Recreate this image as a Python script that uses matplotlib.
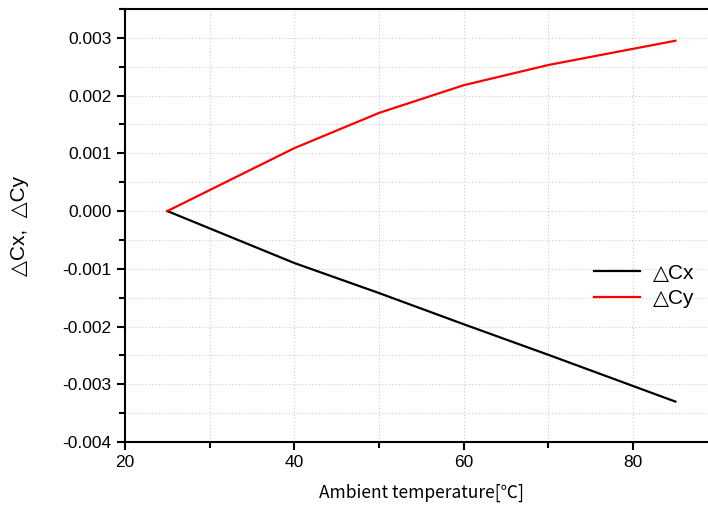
import numpy as np
import matplotlib.pyplot as plt
from matplotlib.ticker import MultipleLocator

temp = [25, 40, 50, 60, 70, 85]
dcx = [0.0, -0.0009, -0.00142, -0.00196, -0.00249, -0.0033]
dcy = [0.0, 0.00109, 0.0017, 0.00218, 0.00253, 0.00295]

cjk = ['Noto Sans CJK KR', 'DejaVu Sans']
latin = ['Liberation Sans', 'DejaVu Sans']
plt.rcParams['font.family'] = latin

fig = plt.figure(figsize=(7.08, 5.12), dpi=100)
ax = fig.add_axes([125/708, 1 - 442/512, (717.7 - 125)/708, (442 - 9)/512])

ax.plot(temp, dcx, color='black', lw=1.6, label='△Cx')
ax.plot(temp, dcy, color='red', lw=1.6, label='△Cy')

ax.set_xlim(20, 90)
ax.set_ylim(-0.004, 0.0035)
ax.xaxis.set_major_locator(MultipleLocator(20))
ax.xaxis.set_minor_locator(MultipleLocator(10))
ax.yaxis.set_major_locator(MultipleLocator(0.001))
ax.yaxis.set_minor_locator(MultipleLocator(0.0005))
ax.yaxis.set_major_formatter(plt.FuncFormatter(lambda v, p: '%.3f' % v))

ax.grid(True, which='both', color='#cccccc', ls=(0, (1, 2)), lw=0.8)
ax.tick_params(which='major', direction='out', length=6, width=1.5, labelsize=12.5)
ax.tick_params(which='minor', direction='out', length=4, width=1.5)
for s in ['left', 'bottom', 'top']:
    ax.spines[s].set_linewidth(1.5)
ax.spines['right'].set_visible(False)

ax.set_xlabel('Ambient temperature[℃]', family=cjk, fontsize=12.5, labelpad=10)
ax.set_ylabel('△Cx,  △Cy', family=latin, fontsize=15, labelpad=24)

leg = ax.legend(loc='upper left', bbox_to_anchor=(0.76, 0.455), frameon=False,
                prop={'family': latin, 'size': 15}, handlelength=2.2,
                handletextpad=0.6, labelspacing=0.3)

fig.savefig('out.png', dpi=100)
